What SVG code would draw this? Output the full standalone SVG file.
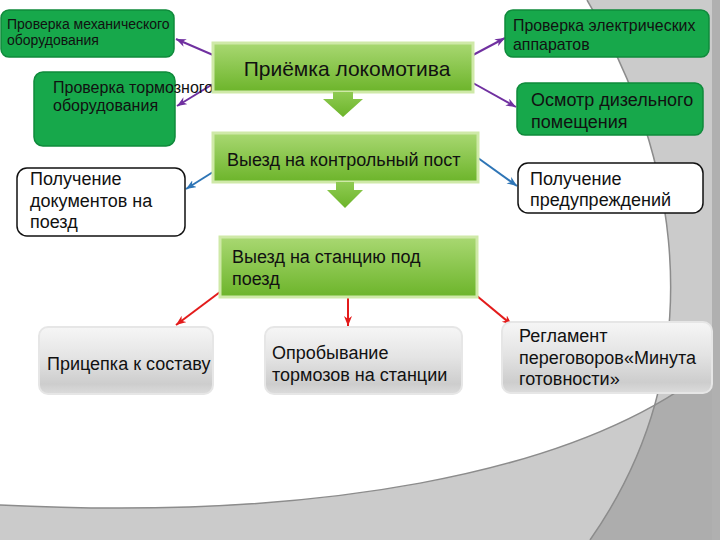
<svg xmlns="http://www.w3.org/2000/svg" width="720" height="540" viewBox="0 0 720 540">
<defs>
<style>
text{font-family:"Liberation Sans",Arial,"Noto Sans",sans-serif;fill:#111}
.b{font-size:18px}
.gs{fill:#17a84b;stroke:#0f8a3b;stroke-width:1.5}
.gg{fill:url(#gg);stroke:#cfe9a8;stroke-width:3}
.ga{fill:url(#ga)}
.wb{fill:#fff;stroke:#111;stroke-width:1.5}
.gr{fill:url(#gray);stroke:#e6e6e6;stroke-width:2}
.c{fill:none;stroke-width:2}
.pu{stroke:#7030a0;marker-end:url(#mp)}
.bl{stroke:#2e75b6;marker-end:url(#mb)}
.rd{stroke:#e31b1b;marker-end:url(#mr)}
</style>
<linearGradient id="gg" x1="0" y1="0" x2="0" y2="1"><stop offset="0" stop-color="#a9d872"/><stop offset="1" stop-color="#6cb42a"/></linearGradient>
<linearGradient id="ga" x1="0" y1="0" x2="0" y2="1"><stop offset="0" stop-color="#8fcb52"/><stop offset="1" stop-color="#6cb42a"/></linearGradient>
<linearGradient id="gray" x1="0" y1="0" x2="0" y2="1"><stop offset="0" stop-color="#f6f6f6"/><stop offset="0.45" stop-color="#e4e4e4"/><stop offset="0.85" stop-color="#cdcdcd"/><stop offset="1" stop-color="#dcdcdc"/></linearGradient>
<marker id="mp" markerUnits="userSpaceOnUse" markerWidth="11" markerHeight="9" refX="10" refY="4" orient="auto"><path d="M0,0 L10,4 L0,8 L3,4 Z" fill="#7030a0"/></marker>
<marker id="mb" markerUnits="userSpaceOnUse" markerWidth="11" markerHeight="9" refX="10" refY="4" orient="auto"><path d="M0,0 L10,4 L0,8 L3,4 Z" fill="#2e75b6"/></marker>
<marker id="mr" markerUnits="userSpaceOnUse" markerWidth="11" markerHeight="9" refX="10" refY="4" orient="auto"><path d="M0,0 L10,4 L0,8 L3,4 Z" fill="#e31b1b"/></marker>
<clipPath id="aboveB"><path d="M0,0 L720,0 L720,360 C580,480 300,520 0,505 Z"/></clipPath>
</defs>
<g id="background">
<rect width="720" height="540" fill="#cbcbcb"/>
<path d="M587,0 C660,120 730,340 590,540 L720,540 L720,0 Z" fill="#adadad"/>
<g clip-path="url(#aboveB)">
<rect width="720" height="540" fill="#cbcbcb"/>
<path d="M0,0 L587,0 C660,120 730,340 590,540 L0,540 Z" fill="#fff"/>
</g>
<path d="M587,0 C660,120 730,340 590,540" fill="none" stroke="#8c8c8c" stroke-width="1.5"/>
<path d="M0,505 C300,520 580,480 720,360" fill="none" stroke="#8c8c8c" stroke-width="1.5"/>
<rect x="712" y="0" width="8" height="540" fill="#b0b0b0"/>
</g>
<g id="connectors">
<path class="c pu" d="M213,55 L176,39"/>
<path class="c pu" d="M213,84 L177,106"/>
<path class="c pu" d="M473,55 L505,38"/>
<path class="c pu" d="M473,83 L516,107"/>
<path class="c bl" d="M213,172 L186,189"/>
<path class="c bl" d="M478,158 L517,186"/>
<path class="c rd" d="M220,292 L176,325"/>
<path class="c rd" d="M348,297 L348,326"/>
<path class="c rd" d="M477,296 L512,325"/>
</g>
<g id="n-mech"><rect class="gs" x="1" y="10" width="173" height="47" rx="8"/><text font-size="14" x="7" y="29">Проверка механического</text><text font-size="14" x="7" y="45">оборудования</text></g>
<g id="n-brake"><rect class="gs" x="34" y="72" width="141" height="74" rx="9"/><text font-size="16" x="53" y="93">Проверка тормозного</text><text font-size="16" x="53" y="111">оборудования</text></g>
<g id="n-elec"><rect class="gs" x="505" y="10" width="204" height="47" rx="8"/><text font-size="15.9" x="513" y="31">Проверка электрических</text><text font-size="15.9" x="513" y="50">аппаратов</text></g>
<g id="n-diesel"><rect class="gs" x="517" y="83" width="186" height="52" rx="8"/><text class="b" x="531" y="106">Осмотр дизельного</text><text class="b" x="531" y="128">помещения</text></g>
<g id="n-accept"><rect class="gg" x="213" y="43" width="260" height="49"/><path class="ga" d="M333,92 L353,92 L353,99 L363,99 L343,117 L323,99 L333,99 Z"/><text font-size="21" x="347" y="76" text-anchor="middle">Приёмка локомотива</text></g>
<g id="n-post"><rect class="gg" x="213" y="133" width="265" height="49"/><path class="ga" d="M336,182 L354,182 L354,190 L363,190 L345,208 L327,190 L336,190 Z"/><text class="b" x="227" y="166">Выезд на контрольный пост</text></g>
<g id="n-docs"><rect class="wb" x="17" y="168" width="168" height="68" rx="10"/><text class="b" x="30" y="185">Получение</text><text class="b" x="30" y="206.5">документов на</text><text class="b" x="30" y="228">поезд</text></g>
<g id="n-warn"><rect class="wb" x="518" y="163" width="185" height="50" rx="10"/><text class="b" x="530" y="185">Получение</text><text class="b" x="530" y="206">предупреждений</text></g>
<g id="n-station"><rect class="gg" x="220" y="237" width="257" height="60"/><text class="b" x="232" y="263">Выезд на станцию под</text><text class="b" x="232" y="285">поезд</text></g>
<g id="n-couple"><rect class="gr" x="39" y="327" width="174" height="67" rx="9"/><text class="b" x="47" y="370">Прицепка к составу</text></g>
<g id="n-test"><rect class="gr" x="265" y="327" width="197" height="67" rx="9"/><text class="b" x="272" y="359">Опробывание</text><text class="b" x="272" y="381">тормозов на станции</text></g>
<g id="n-reg"><rect class="gr" x="502" y="322" width="210" height="71" rx="9"/><text class="b" x="519" y="342">Регламент</text><text class="b" x="519" y="364">переговоров«Минута</text><text class="b" x="519" y="385">готовности»</text></g>
</svg>
